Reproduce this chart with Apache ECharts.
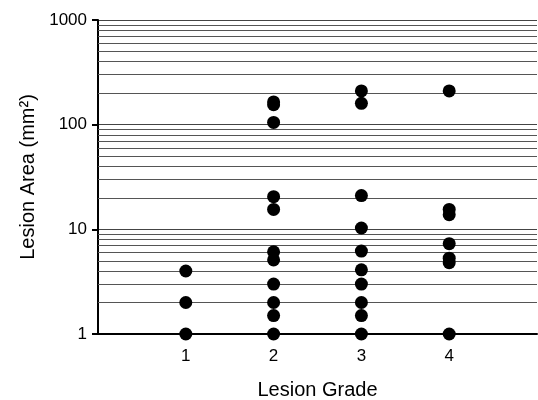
<!DOCTYPE html>
<html>
<head>
<meta charset="utf-8">
<script src="https://cdn.jsdelivr.net/npm/echarts@6/dist/echarts.min.js"></script>
<style>html,body{margin:0;padding:0;background:#fff;}#c{width:538px;height:400px;}</style>
</head>
<body>
<div id="c"></div>
<script>
var grades = [1, 2, 3, 4];
var grade1Values = [4, 2, 1];
var grade2Values = [165, 155, 105, 20.5, 15.5, 6.1, 5.1, 3, 2, 1.5, 1];
var grade3Values = [210, 160, 21, 10.3, 6.2, 4.1, 3, 2, 1.5, 1];
var grade4Values = [210, 15.5, 13.8, 7.3, 5.3, 4.8, 1];
var yTicks = [1, 10, 100, 1000];
var minorGridValues = [2,3,4,5,6,7,8,9,20,30,40,50,60,70,80,90,200,300,400,500,600,700,800,900];

var allValues = [grade1Values, grade2Values, grade3Values, grade4Values];
var points = [];
grades.forEach(function(g, i){
  allValues[i].forEach(function(v){ points.push([g, v]); });
});

var chart = echarts.init(document.getElementById('c'));
var font = 'Liberation Sans, Arial, Helvetica, sans-serif';
chart.setOption({
  animation: false,
  backgroundColor: '#fff',
  grid: {left: 98, right: 1, top: 20, bottom: 66, containLabel: false, outerBoundsMode: 'none'},
  xAxis: {
    type: 'value', min: 0, max: 5, interval: 1,
    name: 'Lesion Grade', nameLocation: 'middle', nameGap: 46,
    nameTextStyle: {fontFamily: font, fontSize: 20, color: '#000'},
    axisLine: {show: true, lineStyle: {color: '#000', width: 2}},
    axisTick: {show: false},
    splitLine: {show: false},
    axisLabel: {
      fontFamily: font, fontSize: 17, color: '#000', margin: 14,
      formatter: function(v){ return grades.indexOf(v) >= 0 ? String(v) : ''; }
    }
  },
  yAxis: {
    type: 'log', logBase: 10, min: 1, max: 1000,
    name: 'Lesion Area (mm²)', nameLocation: 'middle', nameGap: 57,
    nameTextStyle: {fontFamily: font, fontSize: 20, color: '#000'},
    axisLine: {show: true, lineStyle: {color: '#000', width: 2}},
    axisTick: {show: true, inside: false, length: 6, lineStyle: {color: '#000', width: 2}},
    axisLabel: {fontFamily: font, fontSize: 17, color: '#000', margin: 11,
      formatter: function(v){ return yTicks.indexOf(Math.round(v)) >= 0 ? String(Math.round(v)) : ''; }},
    splitLine: {show: true, lineStyle: {color: '#444', width: 1}}
  },
  series: [{
    type: 'scatter',
    data: points,
    symbol: 'circle',
    symbolSize: 13,
    itemStyle: {color: '#000', opacity: 1},
    markLine: {
      silent: true,
      symbol: ['none', 'none'],
      label: {show: false},
      lineStyle: {color: '#555', width: 1, type: 'solid'},
      data: minorGridValues.map(function(v){ return {yAxis: v}; })
    },
    z: 5
  }]
});
</script>
</body>
</html>
